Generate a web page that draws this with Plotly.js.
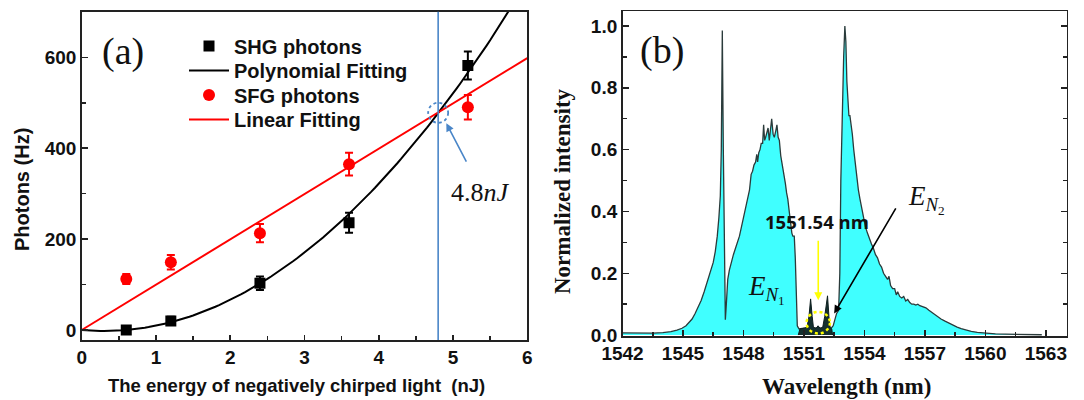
<!DOCTYPE html>
<html><head><meta charset="utf-8">
<script src="https://cdn.plot.ly/plotly-3.0.1.min.js"></script>
<style>html,body{margin:0;padding:0;background:#fff}#chart{width:1084px;height:400px}</style>
</head><body><div id="chart"></div>
<script>
// ---------- Panel (a) data ----------
const energy = [0.6, 1.2, 2.4, 3.6, 5.2];
const shgPhotons = [0, 20, 103, 236, 582];
const shgErr = [8, 9, 15, 22, 31];
const sfgPhotons = [112, 149, 213, 365, 490];
const sfgErr = [11, 16, 20, 25, 27];
const polyCoef = [0, -14.2, 23.66];   // fitted: c0 + c1*x + c2*x^2
const linCoef = [0, 99.7];            // fitted: c0 + c1*x
const crossEnergy = 4.8;
const crossPhotons = 478;

// ---------- Panel (b) data ----------
const wavelength = [1542.0,1542.5,1543.0,1543.5,1544.0,1544.4,1544.7,1544.95,1545.15,1545.3,1545.45,1545.6,1545.75,1545.9,1546.05,1546.2,1546.35,1546.5,1546.6,1546.7,1546.78,1546.85,1546.9,1546.95,1547.0,1547.05,1547.1,1547.15,1547.22,1547.3,1547.4,1547.5,1547.6,1547.7,1547.8,1547.9,1548.0,1548.1,1548.2,1548.3,1548.38,1548.45,1548.52,1548.6,1548.66,1548.7,1548.76,1548.82,1548.88,1548.95,1549.0,1549.05,1549.1,1549.16,1549.22,1549.28,1549.34,1549.4,1549.47,1549.53,1549.6,1549.66,1549.72,1549.78,1549.85,1549.92,1550.0,1550.08,1550.14,1550.2,1550.27,1550.33,1550.4,1550.45,1550.52,1550.57,1550.62,1550.67,1550.75,1551.0,1551.5,1552.0,1552.35,1552.45,1552.55,1552.62,1552.72,1552.78,1552.83,1552.9,1552.97,1553.03,1553.08,1553.13,1553.18,1553.23,1553.28,1553.33,1553.4,1553.47,1553.55,1553.62,1553.7,1553.78,1553.86,1553.95,1554.05,1554.15,1554.25,1554.35,1554.45,1554.55,1554.65,1554.75,1554.85,1554.95,1555.05,1555.15,1555.22,1555.3,1555.4,1555.5,1555.58,1555.65,1555.75,1555.85,1555.95,1556.05,1556.15,1556.25,1556.35,1556.45,1556.55,1556.65,1556.75,1556.85,1556.95,1557.05,1557.2,1557.35,1557.5,1557.65,1557.8,1558.0,1558.2,1558.4,1558.6,1558.8,1559.0,1559.3,1559.6,1560.0,1560.5,1561.0,1561.5,1562.0,1562.5,1562.8];
const intensity = [0.007,0.006,0.005,0.006,0.008,0.011,0.016,0.022,0.03,0.04,0.052,0.07,0.09,0.112,0.14,0.17,0.2,0.235,0.27,0.32,0.38,0.45,0.6,0.985,0.6,0.2,0.05,0.1,0.18,0.21,0.24,0.26,0.28,0.30,0.32,0.35,0.38,0.41,0.45,0.47,0.52,0.53,0.55,0.56,0.585,0.56,0.59,0.60,0.62,0.62,0.68,0.63,0.64,0.66,0.67,0.63,0.66,0.70,0.65,0.64,0.66,0.68,0.64,0.63,0.58,0.555,0.52,0.49,0.46,0.44,0.40,0.36,0.33,0.32,0.32,0.25,0.1,0.03,0.02,0.022,0.022,0.022,0.022,0.03,0.05,0.07,0.08,0.2,0.5,0.75,0.9,1.0,0.95,0.82,0.74,0.71,0.71,0.69,0.65,0.60,0.55,0.51,0.47,0.44,0.41,0.38,0.35,0.33,0.31,0.295,0.28,0.26,0.25,0.23,0.22,0.2,0.19,0.18,0.19,0.16,0.15,0.15,0.13,0.14,0.125,0.12,0.125,0.11,0.115,0.105,0.1,0.1,0.097,0.1,0.095,0.093,0.09,0.088,0.08,0.073,0.065,0.058,0.052,0.045,0.038,0.031,0.026,0.021,0.017,0.012,0.009,0.006,0.004,0.003,0.002,0.001,0.001,0.001];
const sfgWavelength = [1550.72,1550.8,1551.0,1551.15,1551.25,1551.33,1551.41,1551.47,1551.6,1551.7,1551.8,1551.93,1552.03,1552.12,1552.17,1552.24,1552.3,1552.38,1552.42];
const sfgIntensity = [0.0,0.02,0.022,0.025,0.06,0.117,0.06,0.025,0.022,0.03,0.022,0.025,0.06,0.1,0.127,0.06,0.025,0.02,0.0];

// fitted curves sampled on a grid
function poly(c, x){ let s=0; for(let i=0;i<c.length;i++) s+=c[i]*Math.pow(x,i); return s; }
const fitX = []; for (let i=0;i<=120;i++) fitX.push(i*0.05);
const polyY = fitX.map(x=>poly(polyCoef,x));
const linY = fitX.map(x=>poly(linCoef,x));

const AR = 'Liberation Sans, Arial, sans-serif';
const TR = 'Liberation Serif, Times New Roman, serif';
const axCol = '#222';

const traces = [
  {x: energy, y: shgPhotons, type:'scatter', mode:'markers', name:'SHG photons', legend:'legend',
   marker:{symbol:'square', size:11, color:'#000'},
   error_y:{type:'data', array: shgErr, color:'#000', thickness:2, width:4}, xaxis:'x', yaxis:'y'},
  {x: fitX, y: polyY, type:'scatter', mode:'lines', name:'Polynomial Fitting', legend:'legend2',
   line:{color:'#000', width:2}, xaxis:'x', yaxis:'y'},
  {x: energy, y: sfgPhotons, type:'scatter', mode:'markers', name:'SFG photons', legend:'legend3',
   marker:{symbol:'circle', size:12, color:'#ff0000'},
   error_y:{type:'data', array: sfgErr, color:'#ff0000', thickness:2, width:4}, xaxis:'x', yaxis:'y'},
  {x: fitX, y: linY, type:'scatter', mode:'lines', name:'Linear Fitting', legend:'legend4',
   line:{color:'#ff0000', width:2}, xaxis:'x', yaxis:'y'},
  {x: wavelength, y: intensity, type:'scatter', mode:'lines', fill:'tozeroy', fillcolor:'#40ffff',
   line:{color:'#2b3b3b', width:1.3}, showlegend:false, xaxis:'x2', yaxis:'y2'},
  {x: sfgWavelength, y: sfgIntensity, type:'scatter', mode:'lines', fill:'tozeroy', fillcolor:'#14302f',
   line:{color:'#0d1f1f', width:1}, showlegend:false, xaxis:'x2', yaxis:'y2'}
];

const tickFont = {family: AR, size: 19, color:'#111', weight:'bold'};
const legFont = {family: AR, size: 20, color:'#111', weight:'bold'};
function leg(rowY){
  return {x:184/1084, y:1-rowY/400, xanchor:'left', yanchor:'middle', bgcolor:'rgba(0,0,0,0)',
          font:legFont, itemwidth:40, borderwidth:0};
}
const layout = {
  width:1084, height:400, margin:{l:0,r:0,t:0,b:0}, paper_bgcolor:'#fff', plot_bgcolor:'#fff',
  showlegend:true,
  legend:leg(46), legend2:leg(70.5), legend3:leg(95), legend4:leg(119.5),
  xaxis:{domain:[0.0754,0.4864], range:[0,6], anchor:'y', tickmode:'linear', tick0:0, dtick:1,
         ticks:'inside', ticklen:5, tickwidth:1.5, tickcolor:axCol,
         minor:{dtick:0.5, ticks:'inside', ticklen:4, tickwidth:1.5, tickcolor:axCol, showgrid:false},
         showline:true, linewidth:1.5, linecolor:axCol, mirror:true, showgrid:false, zeroline:false,
         tickfont:tickFont},
  yaxis:{domain:[0.15,0.9708], range:[-22,700.5], anchor:'x', tickmode:'linear', tick0:0, dtick:200,
         ticks:'inside', ticklen:6, tickwidth:1.5, tickcolor:axCol,
         minor:{dtick:100, ticks:'inside', ticklen:4, tickwidth:1.5, tickcolor:axCol, showgrid:false},
         showline:true, linewidth:1.5, linecolor:axCol, mirror:true, showgrid:false, zeroline:false,
         tickfont:tickFont},
  xaxis2:{domain:[0.5743,0.9843], range:[1542,1564.05], anchor:'y2', tickmode:'linear', tick0:1542, dtick:3,
         ticks:'inside', ticklen:6, tickwidth:1.5, tickcolor:axCol,
         minor:{dtick:1.5, ticks:'inside', ticklen:4, tickwidth:1.5, tickcolor:axCol, showgrid:false},
         showline:true, linewidth:1.5, linecolor:axCol, mirror:true, showgrid:false, zeroline:false,
         tickfont:tickFont},
  yaxis2:{domain:[0.16,0.9725], range:[-0.003,1.0485], anchor:'x2', tickmode:'linear', tick0:0, dtick:0.2,
         tickformat:'.1f',
         ticks:'inside', ticklen:6, tickwidth:1.5, tickcolor:axCol,
         minor:{dtick:0.1, ticks:'inside', ticklen:4, tickwidth:1.5, tickcolor:axCol, showgrid:false},
         showline:true, linewidth:1.5, linecolor:axCol, mirror:'ticks', showgrid:false, zeroline:false,
         tickfont:tickFont},
  shapes:[
    {type:'line', xref:'x', yref:'paper', x0:crossEnergy, x1:crossEnergy, y0:0.15, y1:0.9708,
     line:{color:'#4a86c8', width:1.6}},
    {type:'circle', xref:'x', yref:'y', xsizemode:'pixel', ysizemode:'pixel', xanchor:crossEnergy, yanchor:crossPhotons,
     x0:-10, x1:10, y0:-10, y1:10, line:{color:'#4a86c8', width:1.8, dash:'dot'}},
    {type:'circle', xref:'x2', yref:'y2', x0:1551.13, x1:1552.29, y0:0.005, y1:0.075,
     line:{color:'#ffff00', width:2.5, dash:'dot'}}
  ],
  annotations:[
    {xref:'paper', yref:'paper', x:22/1084, y:1-190/400, xanchor:'center', yanchor:'middle', text:'Photons (Hz)', textangle:-90, showarrow:false,
     font:{family:AR, size:20, color:'#111', weight:'bold'}},
    {xref:'paper', yref:'paper', x:296/1084, y:1-385/400, xanchor:'center', yanchor:'middle', text:'The energy of negatively chirped light  (nJ)', showarrow:false,
     font:{family:AR, size:18.5, color:'#111', weight:'bold'}},
    {xref:'x', yref:'y', x:0.56, y:612, xanchor:'center', yanchor:'middle', text:'(a)', showarrow:false, font:{family:TR, size:38, color:'#111'}},
    {xref:'x', yref:'y', x:5.37, y:302, xanchor:'center', yanchor:'middle', text:'4.8<i>nJ</i>', showarrow:false, font:{family:TR, size:26, color:'#111'}},
    {xref:'x', yref:'y', x:4.91, y:455, axref:'x', ayref:'y', ax:5.19, ay:367, text:'', showarrow:true,
     arrowhead:2, arrowsize:1, arrowwidth:1.6, arrowcolor:'#4a86c8'},
    {xref:'paper', yref:'paper', x:562/1084, y:1-191/400, xanchor:'center', yanchor:'middle', text:'Normalized intensity', textangle:-90, showarrow:false,
     font:{family:TR, size:23, color:'#111', weight:'bold'}},
    {xref:'paper', yref:'paper', x:846/1084, y:1-386/400, xanchor:'center', yanchor:'middle', text:'Wavelength (nm)', showarrow:false,
     font:{family:TR, size:23, color:'#111', weight:'bold'}},
    {xref:'x2', yref:'y2', x:1543.98, y:0.92, xanchor:'center', yanchor:'middle', text:'(b)', showarrow:false, font:{family:TR, size:38, color:'#111'}},
    {xref:'x2', yref:'y2', x:1551.63, y:0.367, xanchor:'center', yanchor:'middle', text:'1551.54 nm', showarrow:false,
     font:{family:'Open Sans, sans-serif', size:18.5, color:'#111', weight:'bold'}},
    {xref:'x2', yref:'y2', x:1551.71, y:0.113, axref:'x2', ayref:'y2', ax:1551.71, ay:0.31, text:'', showarrow:true,
     arrowhead:2, arrowsize:1, arrowwidth:1.6, arrowcolor:'#ffff00'},
    {xref:'x2', yref:'y2', x:1552.5, y:0.07, axref:'x2', ayref:'y2', ax:1555.6, ay:0.415, text:'', showarrow:true,
     arrowhead:2, arrowsize:1, arrowwidth:1.6, arrowcolor:'#000'},
    {xref:'x2', yref:'y2', x:1549.14, y:0.146, xanchor:'center', yanchor:'middle', text:'<i>E</i><sub><i>N</i><sub>1</sub></sub>', showarrow:false,
     font:{family:TR, size:27, color:'#111'}},
    {xref:'x2', yref:'y2', x:1557.06, y:0.44, xanchor:'center', yanchor:'middle', text:'<i>E</i><sub><i>N</i><sub>2</sub></sub>', showarrow:false,
     font:{family:TR, size:27, color:'#111'}}
  ]
};
Plotly.newPlot('chart', traces, layout, {displayModeBar:false, staticPlot:true});
</script></body></html>
